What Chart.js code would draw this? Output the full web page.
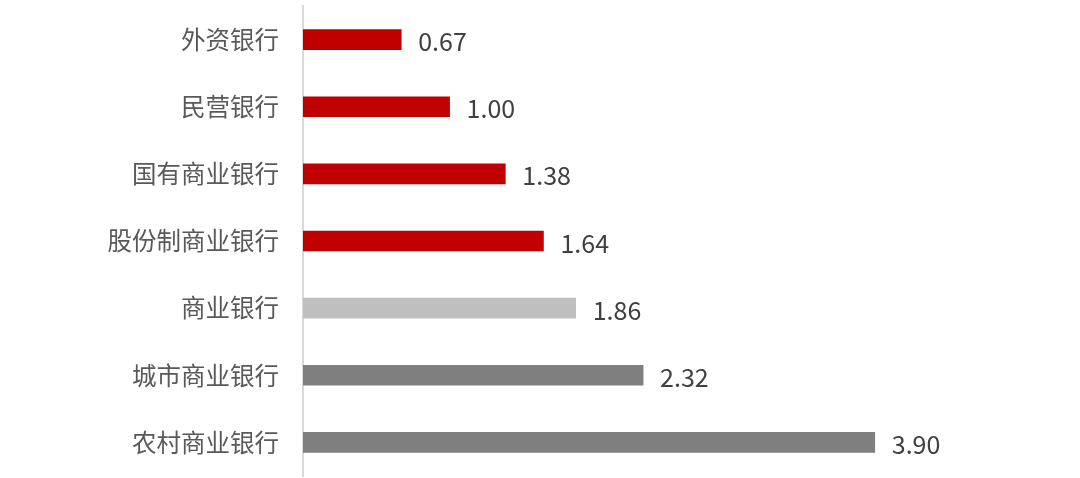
<!DOCTYPE html>
<html>
<head>
<meta charset="utf-8">
<script src="https://cdn.jsdelivr.net/npm/chart.js@4"></script>
<style>
  html, body { margin: 0; padding: 0; background: #fff; }
  #wrap { width: 1080px; height: 478px; position: relative; }
</style>
</head>
<body>
<div id="wrap"><canvas id="chart"></canvas></div>
<script>
const categories = ['外资银行', '民营银行', '国有商业银行', '股份制商业银行', '商业银行', '城市商业银行', '农村商业银行'];
const values = [0.67, 1.00, 1.38, 1.64, 1.86, 2.32, 3.90];
const barColors = ['#C00000', '#C00000', '#C00000', '#C00000', '#BFBFBF', '#7F7F7F', '#7F7F7F'];

const CJK = "'Noto Sans CJK SC', 'Noto Sans', sans-serif";

// value labels at bar ends
const valueLabels = {
  id: 'valueLabels',
  afterDatasetsDraw(chart) {
    const ctx = chart.ctx;
    const meta = chart.getDatasetMeta(0);
    ctx.save();
    ctx.font = "25px " + CJK;
    ctx.fillStyle = '#404040';
    ctx.textAlign = 'left';
    ctx.textBaseline = 'middle';
    meta.data.forEach((bar, i) => {
      ctx.fillText(values[i].toFixed(2), bar.x + 17, bar.y + 2);
    });
    ctx.restore();
  }
};

new Chart(document.getElementById('chart'), {
  type: 'bar',
  data: {
    labels: categories,
    datasets: [{
      data: values,
      backgroundColor: barColors,
      borderWidth: 0,
      barThickness: 20,
    }]
  },
  options: {
    indexAxis: 'y',
    responsive: true,
    maintainAspectRatio: false,
    animation: false,
    layout: { padding: { top: 6, bottom: 2, left: 0, right: 0 } },
    plugins: {
      legend: { display: false },
      tooltip: { enabled: false },
    },
    scales: {
      x: {
        min: 0,
        max: 5.3,
        display: false,
        afterFit: s => { s.height = 0; },
      },
      y: {
        grid: { display: false, drawTicks: false },
        border: { display: true, color: '#D9D9D9', width: 2 },
        ticks: {
          color: '#595959',
          font: { family: CJK, size: 24.5 },
          padding: 24,
        },
        afterFit: s => {
          s.width = 303;
          s.paddingTop = 0;
          s.paddingBottom = 0;
        },
      }
    }
  },
  plugins: [valueLabels]
});
</script>
</body>
</html>
